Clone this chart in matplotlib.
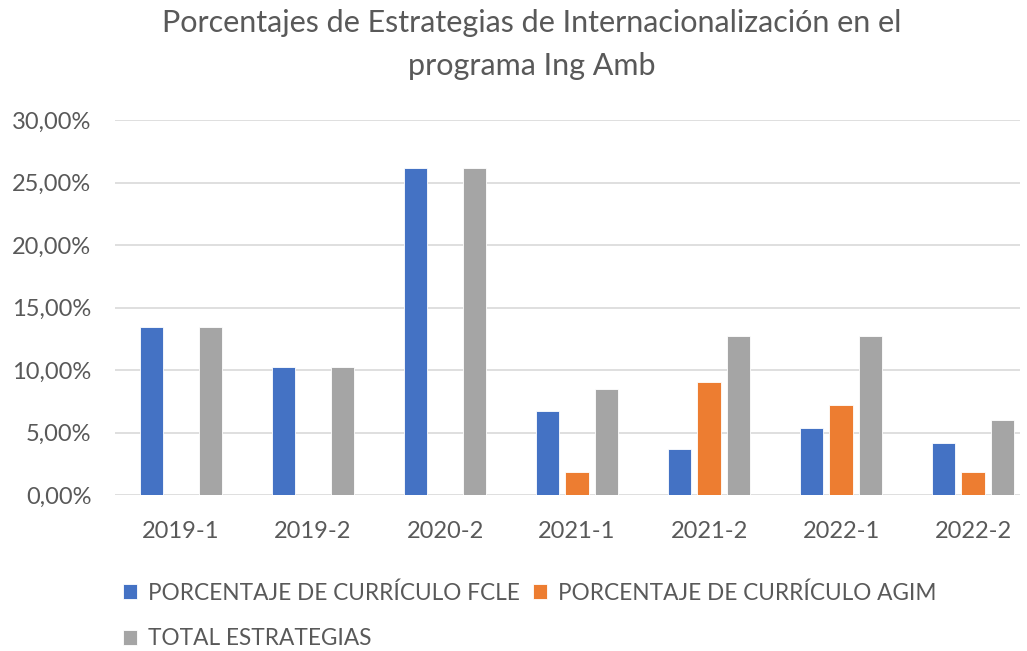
import matplotlib
matplotlib.use("Agg")
import matplotlib.pyplot as plt
import numpy as np
from matplotlib.ticker import FuncFormatter

plt.rcParams['font.family'] = ['Lato', 'DejaVu Sans']

categories = ["2019-1", "2019-2", "2020-2", "2021-1", "2021-2", "2022-1", "2022-2"]
fcle = [13.42, 10.28, 26.17, 6.71, 3.67, 5.38, 4.18]
agim = [0, 0, 0, 1.84, 9.05, 7.19, 1.84]
total = [13.42, 10.28, 26.17, 8.52, 12.73, 12.73, 6.02]
series_names = ["PORCENTAJE DE CURRÍCULO FCLE", "PORCENTAJE DE CURRÍCULO AGIM", "TOTAL ESTRATEGIAS"]
colors = ["#4472C4", "#ED7D31", "#A5A5A5"]

W, H = 1027, 651
fig = plt.figure(figsize=(W / 100, H / 100), dpi=100)
ax = fig.add_axes([115 / W, 1 - 495 / H, (1020 - 115) / W, (495 - 120) / H])

x = np.arange(len(categories))
bw = 0.175
off = 0.224
handles = []
for i, (vals, name, c) in enumerate(zip([fcle, agim, total], series_names, colors)):
    h = ax.bar(x + (i - 1) * off, vals, width=bw, color=c, label=name,
               edgecolor="white", linewidth=0.6, zorder=3)
    handles.append(h)

ax.set_ylim(0, 30)
ax.set_xlim(-0.5, 6.356)
ax.set_yticks(np.arange(0, 31, 5))
ax.yaxis.set_major_formatter(FuncFormatter(lambda v, p: f"{v:.2f}%".replace(".", ",")))
ax.set_xticks(x)
ax.set_xticklabels(categories)
ax.grid(axis="y", color="#D9D9D9", linewidth=1.2, zorder=0)
for s in ax.spines.values():
    s.set_visible(False)
ax.tick_params(axis="both", length=0, labelsize=17, labelcolor="#595959")
ax.tick_params(axis="y", pad=17)
ax.tick_params(axis="x", pad=19)

fig.text(532 / W, 1 - 23 / H, "Porcentajes de Estrategias de Internacionalización en el",
         ha="center", va="center", fontsize=22, color="#595959")
fig.text(532 / W, 1 - 66 / H, "programa Ing Amb",
         ha="center", va="center", fontsize=22, color="#595959")

order = [0, 2, 1]
leg = ax.legend([handles[i] for i in order], [series_names[i] for i in order],
                loc="upper left", bbox_to_anchor=(123 / W, 1 - 582 / H), bbox_transform=fig.transFigure,
                ncol=2, frameon=False, fontsize=16.3, labelcolor="#595959",
                handlelength=0.6, handleheight=0.6, handletextpad=0.5, columnspacing=0.6,
                labelspacing=1.1, borderaxespad=0, borderpad=0)

fig.savefig("out.png", dpi=100)
